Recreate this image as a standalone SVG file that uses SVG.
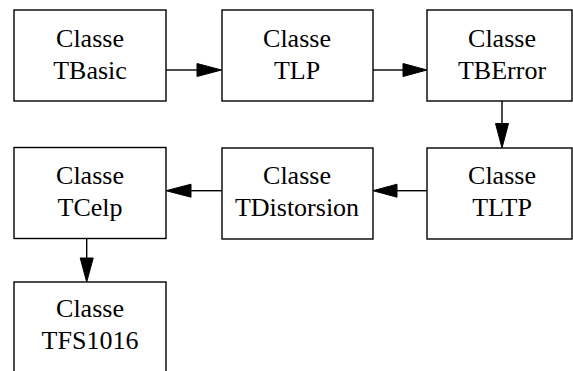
<svg xmlns="http://www.w3.org/2000/svg" width="573" height="371" viewBox="0 0 573 371">
<style>
.box{fill:#fff;stroke:#000;stroke-width:1.4}
.lbl{font-family:'Liberation Serif',serif;font-size:26px;text-anchor:middle;fill:#000}
.edge{stroke:#000;stroke-width:1.4;fill:none}
.head{fill:#000;stroke:#000;stroke-width:1}
</style>
<rect width="573" height="371" fill="#fff"/>
<g id="TBasic"><rect class="box" x="14" y="10" width="152" height="91"/><text class="lbl" x="90" y="47">Classe</text><text class="lbl" x="90" y="79">TBasic</text></g>
<g id="TLP"><rect class="box" x="222" y="10" width="151" height="91"/><text class="lbl" x="297" y="47">Classe</text><text class="lbl" x="297" y="79">TLP</text></g>
<g id="TBError"><rect class="box" x="427" y="10" width="145" height="91"/><text class="lbl" x="502" y="47">Classe</text><text class="lbl" x="502" y="79">TBError</text></g>
<g id="TLTP"><rect class="box" x="427" y="148" width="145" height="91"/><text class="lbl" x="502" y="184">Classe</text><text class="lbl" x="502" y="216">TLTP</text></g>
<g id="TDistorsion"><rect class="box" x="222" y="148" width="151" height="91"/><text class="lbl" x="297" y="184">Classe</text><text class="lbl" x="297" y="216">TDistorsion</text></g>
<g id="TCelp"><rect class="box" x="14" y="147.5" width="152" height="91"/><text class="lbl" x="90" y="183.5">Classe</text><text class="lbl" x="90" y="215.5">TCelp</text></g>
<g id="TFS1016"><rect class="box" x="14" y="282" width="152" height="100"/><text class="lbl" x="90" y="317">Classe</text><text class="lbl" x="90" y="349">TFS1016</text></g>
<g id="connectors">
<line class="edge" x1="166" y1="70" x2="197" y2="70"/><polygon class="head" points="197,63.5 221.5,70 197,76.5"/>
<line class="edge" x1="373" y1="70" x2="403" y2="70"/><polygon class="head" points="403,63.5 427,70 403,76.5"/>
<line class="edge" x1="502" y1="101" x2="502" y2="123.5"/><polygon class="head" points="495.5,123.5 502,148 508.5,123.5"/>
<line class="edge" x1="427" y1="190.7" x2="397" y2="190.7"/><polygon class="head" points="397,184.2 373,190.7 397,197.2"/>
<line class="edge" x1="222" y1="190.7" x2="191" y2="190.7"/><polygon class="head" points="191,184.2 166,190.7 191,197.2"/>
<line class="edge" x1="86.7" y1="238.5" x2="86.7" y2="258"/><polygon class="head" points="80.2,258 86.7,282 93.2,258"/>
</g>
</svg>
